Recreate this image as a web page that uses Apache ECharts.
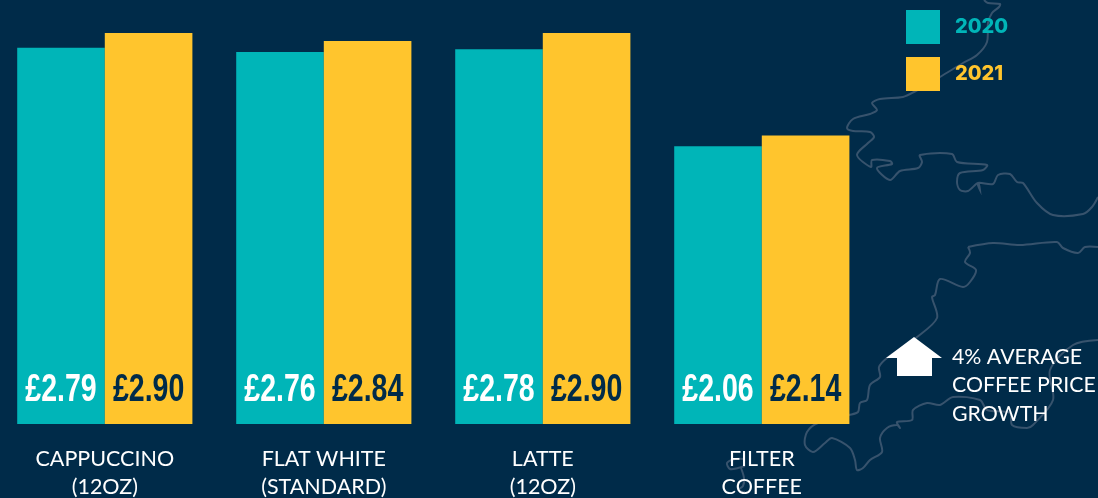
<!DOCTYPE html>
<html>
<head>
<meta charset="utf-8">
<title>Coffee prices</title>
<script src="https://cdn.jsdelivr.net/npm/echarts@6/dist/echarts.min.js"></script>
<style>
  html, body { margin: 0; padding: 0; background: #002b49; }
  #chart { width: 1098px; height: 498px; }
</style>
</head>
<body>
<div id="chart"></div>
<script>
const categories = ['CAPPUCCINO\n(12OZ)', 'FLAT WHITE\n(STANDARD)', 'LATTE\n(12OZ)', 'FILTER\nCOFFEE']
const prices2020 = [2.79, 2.76, 2.78, 2.06]
const prices2021 = [2.90, 2.84, 2.90, 2.14]
const noteLines = ['4% AVERAGE', 'COFFEE PRICE', 'GROWTH']

const TEAL = '#00b5b8'
const YELLOW = '#ffc52d'
const NAVY = '#002b49'
const COAST = '#37536d'
const BAR_WIDTH = 87.6

// background coastline, purely decorative
const coastPaths = [
  [[984,0],[988,3],[1000,4],[999,7],[992,13],[988,23],[987,42],[977,55],[963,63],[940,77],[914,92],[903,97],[880,99],[872,103],[877,110],[870,114],[853,119],[847,128],[853,131],[870,132],[874,137],[868,143],[857,155],[871,167],[872,160],[890,161],[892,164],[877,168],[890,180],[900,171],[918,168],[922,162],[920,155],[952,154],[957,162],[987,165],[983,170],[960,173],[957,182],[960,190],[968,191],[978,183],[980,190],[978,183],[993,184],[998,175],[1010,174],[1017,182],[1023,183],[1037,203],[1053,215],[1083,214],[1092,207],[1098,197]],
  [[968,247],[993,243],[1020,245],[1057,242],[1063,248],[1078,253],[1085,247],[1098,247]],
  [[968,247],[970,253],[965,262],[976,270],[970,282],[963,287],[940,279],[935,295],[932,297],[937,318],[917,337],[887,358],[879,367],[880,377],[870,385],[867,400],[860,403],[858,412],[849,415],[818,423],[807,432],[805,445],[813,452],[825,443],[832,438],[850,448],[855,460],[857,470],[863,468],[870,460],[882,452],[880,438],[887,428],[897,425],[900,428],[897,422],[912,420],[913,410],[927,403],[940,405],[953,397],[980,400],[987,410],[1010,413],[1012,425],[1027,428],[1033,425],[1053,400],[1050,370],[1073,345],[1098,340]],
  [[745,459],[735,459],[727,463],[730,469],[738,468],[745,466]],
  [[741,468],[744,478],[743,486],[738,490],[745,492]]
]

const chart = echarts.init(document.getElementById('chart'))

// no condensed font is installed, so the price labels are squeezed text drawn at each bar
const priceLabels = (values, side, color) => ({
  type: 'custom',
  coordinateSystem: 'cartesian2d',
  silent: true,
  z: 4,
  data: values.map((v, i) => [i, v]),
  renderItem: (params, api) => {
    const base = api.coord([api.value(0), 0])
    return {
      type: 'text',
      x: base[0] + side * BAR_WIDTH / 2,
      y: base[1] - 33,
      scaleX: 0.75,
      style: {
        text: '£' + api.value(1).toFixed(2),
        fill: color,
        font: 'bold 38px "Liberation Sans"',
        align: 'center',
        verticalAlign: 'middle',
      },
    }
  },
})

chart.setOption({
  backgroundColor: NAVY,
  animation: false,
  legend: {
    orient: 'vertical',
    left: 906,
    top: 10,
    padding: 0,
    itemWidth: 34,
    itemHeight: 34,
    itemGap: 13,
    icon: 'rect',
    selectedMode: false,
    textStyle: {
      fontFamily: 'Inter',
      fontWeight: 800,
      fontSize: 20,
      padding: [6, 0, 0, 10],
    },
    data: [
      { name: '2020', textStyle: { color: TEAL } },
      { name: '2021', textStyle: { color: YELLOW } },
    ],
  },
  grid: { left: -4.7, width: 876, top: 33, height: 391, outerBoundsMode: 'none' },
  xAxis: {
    type: 'category',
    data: categories,
    axisLine: { show: false },
    axisTick: { show: false },
    axisLabel: {
      color: '#ffffff',
      fontFamily: 'Lato',
      fontSize: 21.5,
      lineHeight: 28,
      margin: 21,
      interval: 0,
    },
  },
  yAxis: { type: 'value', min: 0, max: 2.9, show: false },
  series: [
    {
      name: '2020',
      type: 'bar',
      barWidth: BAR_WIDTH,
      barGap: 0,
      itemStyle: { color: TEAL },
      data: prices2020,
      z: 3,
    },
    {
      name: '2021',
      type: 'bar',
      barWidth: BAR_WIDTH,
      itemStyle: { color: YELLOW },
      data: prices2021,
      z: 3,
    },
    priceLabels(prices2020, -1, '#ffffff'),
    priceLabels(prices2021, 1, NAVY),
  ],
  graphic: [
    ...coastPaths.map((points) => ({
      type: 'polyline',
      z: 0,
      shape: { points, smooth: 0.3 },
      style: { stroke: COAST, lineWidth: 2, fill: null },
    })),
    {
      type: 'polygon',
      z: 5,
      shape: { points: [[914,337],[886,358],[897,358],[897,376],[932,376],[932,358],[942,358]] },
      style: { fill: '#ffffff' },
    },
    ...noteLines.map((text, i) => ({
      type: 'text',
      z: 5,
      x: 952,
      y: 357 + i * 28.5,
      style: {
        text,
        fill: '#ffffff',
        font: '21.3px Lato',
        verticalAlign: 'middle',
      },
    })),
  ],
})
</script>
</body>
</html>
